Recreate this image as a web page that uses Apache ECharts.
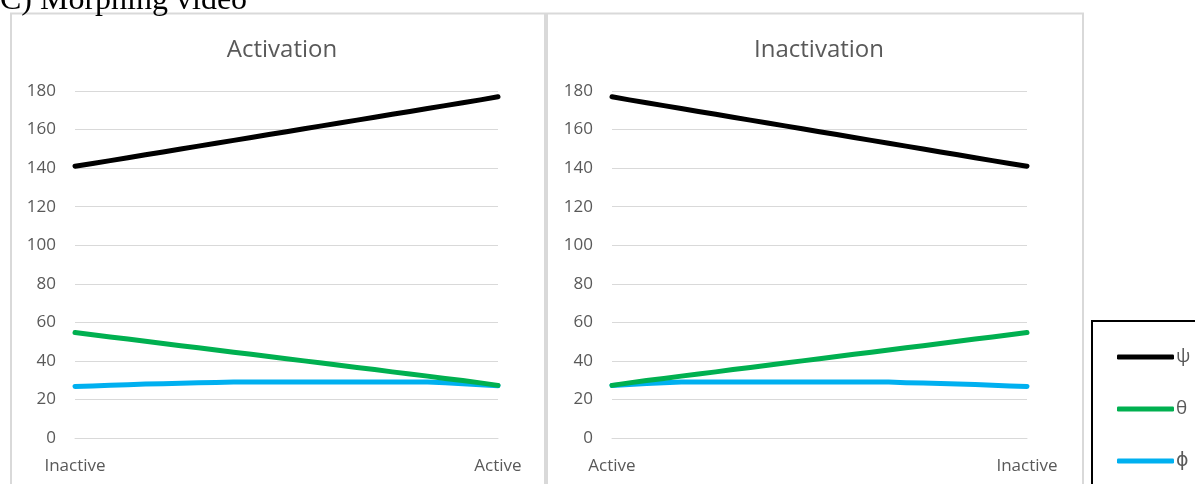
<!DOCTYPE html>
<html>
<head>
<meta charset="utf-8">
<style>
  html, body { margin: 0; padding: 0; background: #ffffff; }
  #chart { width: 1195px; height: 484px; }
</style>
<script src="https://cdn.jsdelivr.net/npm/echarts@6/dist/echarts.min.js"></script>
</head>
<body>
<div id="chart"></div>
<script>
// Axis values
const yTicks = { min: 0, max: 180, step: 20 };
const endLabelsAct = ['Inactive', 'Active'];
const endLabelsInact = ['Active', 'Inactive'];
const seriesNames = ['ψ', 'θ', 'ϕ'];
const seriesColors = ['#000000', '#00b050', '#00b0f0'];

// Activation: morph frames from inactive to active
const psiAct = [141, 142.4, 143.9, 145.4, 146.9, 148.4, 149.9, 151.4, 152.9, 154.4, 155.9, 157.4, 158.9,
  160.4, 161.9, 163.4, 164.9, 166.4, 167.9, 169.4, 170.9, 172.4, 173.9, 175.4, 177];
const thetaAct = [54.7, 53.6, 52.4, 51.3, 50.2, 49, 47.9, 46.8, 45.6, 44.5, 43.4, 42.3, 41.1,
  40, 38.9, 37.7, 36.6, 35.5, 34.3, 33.2, 32.1, 30.9, 29.8, 28.6, 27.3];
const phiAct = [26.7, 27, 27.3, 27.6, 28, 28.2, 28.4, 28.6, 28.8, 29, 29, 29, 29,
  29, 29, 29, 29, 29, 29, 29, 29, 28.7, 28.2, 27.6, 27.1];

// Inactivation: morph frames from active to inactive
const psiInact = [177, 175.4, 173.9, 172.4, 170.9, 169.4, 167.9, 166.4, 164.9, 163.4, 161.9, 160.4, 158.9,
  157.4, 155.9, 154.4, 152.9, 151.4, 149.9, 148.4, 146.9, 145.4, 143.9, 142.4, 141];
const thetaInact = [27.3, 28.6, 29.8, 30.9, 32.1, 33.2, 34.3, 35.5, 36.6, 37.7, 38.9, 40, 41.1,
  42.3, 43.4, 44.5, 45.6, 46.8, 47.9, 49, 50.2, 51.3, 52.4, 53.6, 54.7];
const phiInact = [27.2, 27.8, 28.3, 28.7, 29, 29, 29, 29, 29, 29, 29, 29, 29,
  29, 29, 29, 29, 28.7, 28.5, 28.3, 28, 27.8, 27.4, 27, 26.7];

const labelFont = '"Open Sans", "DejaVu Sans", sans-serif';
const textGray = '#595959';
const gridGray = '#d9d9d9';

function frameCategories(n) {
  const c = [];
  for (let i = 0; i < n; i++) c.push(String(i));
  return c;
}

function xAxisFor(gridIndex, n, ends) {
  return {
    type: 'category',
    gridIndex: gridIndex,
    data: frameCategories(n),
    boundaryGap: false,
    axisLine: { show: true, lineStyle: { color: gridGray, width: 1 } },
    axisTick: { show: false },
    splitLine: { show: false },
    axisLabel: {
      interval: (i) => i === 0 || i === n - 1,
      formatter: (v, i) => (i === 0 ? ends[0] : (i === n - 1 ? ends[1] : '')),
      color: textGray,
      fontFamily: labelFont,
      fontSize: 17,
      margin: 20,
      showMinLabel: true,
      showMaxLabel: true
    }
  };
}

function yAxisFor(gridIndex) {
  return {
    type: 'value',
    gridIndex: gridIndex,
    min: yTicks.min,
    max: yTicks.max,
    interval: yTicks.step,
    axisLine: { show: false },
    axisTick: { show: false },
    splitLine: { show: true, lineStyle: { color: gridGray, width: 1 } },
    axisLabel: { color: textGray, fontFamily: labelFont, fontSize: 17, margin: 19 }
  };
}

function lineSeries(name, data, color, idx) {
  return {
    name: name,
    type: 'line',
    xAxisIndex: idx,
    yAxisIndex: idx,
    data: data,
    showSymbol: false,
    symbol: 'none',
    smooth: false,
    itemStyle: { color: color },
    lineStyle: { color: color, width: 5, cap: 'round', join: 'round' },
    emphasis: { disabled: true },
    animation: false
  };
}

const chart = echarts.init(document.getElementById('chart'), null, { renderer: 'canvas' });

chart.setOption({
  backgroundColor: '#ffffff',
  animation: false,
  title: [
    { text: 'Activation', left: 277, top: 33, textAlign: 'center',
      textStyle: { color: textGray, fontFamily: labelFont, fontSize: 24, fontWeight: 'normal' } },
    { text: 'Inactivation', left: 814, top: 33, textAlign: 'center',
      textStyle: { color: textGray, fontFamily: labelFont, fontSize: 24, fontWeight: 'normal' } }
  ],
  graphic: [
    { type: 'text', left: 0, top: -15, z: 10,
      style: { text: 'C) Morphing video', fill: '#000000',
        font: '32px "Liberation Serif", "Times New Roman", serif' } },
    { type: 'rect', z: -1, shape: { x: 11, y: 13.5, width: 534, height: 500 },
      style: { fill: 'none', stroke: gridGray, lineWidth: 2 } },
    { type: 'rect', z: -1, shape: { x: 547, y: 13.5, width: 536, height: 500 },
      style: { fill: 'none', stroke: gridGray, lineWidth: 2 } },
    { type: 'rect', z: 0, shape: { x: 1092, y: 321, width: 200, height: 200 },
      style: { fill: '#ffffff', stroke: '#000000', lineWidth: 2 } }
  ],
  legend: {
    data: seriesNames,
    orient: 'vertical',
    left: 1112,
    top: 342,
    icon: 'roundRect',
    itemWidth: 57,
    itemHeight: 5,
    itemGap: 32,
    z: 5,
    selectedMode: false,
    textStyle: { color: textGray, fontFamily: labelFont, fontSize: 19, lineHeight: 20, padding: [0, 0, 0, -3] }
  },
  grid: [
    { left: 75, right: 1195 - 498, top: 91, bottom: 484 - 438, containLabel: false },
    { left: 612, right: 1195 - 1027, top: 91, bottom: 484 - 438, containLabel: false }
  ],
  xAxis: [
    xAxisFor(0, psiAct.length, endLabelsAct),
    xAxisFor(1, psiInact.length, endLabelsInact)
  ],
  yAxis: [yAxisFor(0), yAxisFor(1)],
  series: [
    lineSeries(seriesNames[2], phiAct, seriesColors[2], 0),
    lineSeries(seriesNames[1], thetaAct, seriesColors[1], 0),
    lineSeries(seriesNames[0], psiAct, seriesColors[0], 0),
    lineSeries(seriesNames[2], phiInact, seriesColors[2], 1),
    lineSeries(seriesNames[1], thetaInact, seriesColors[1], 1),
    lineSeries(seriesNames[0], psiInact, seriesColors[0], 1)
  ]
});
</script>
</body>
</html>
